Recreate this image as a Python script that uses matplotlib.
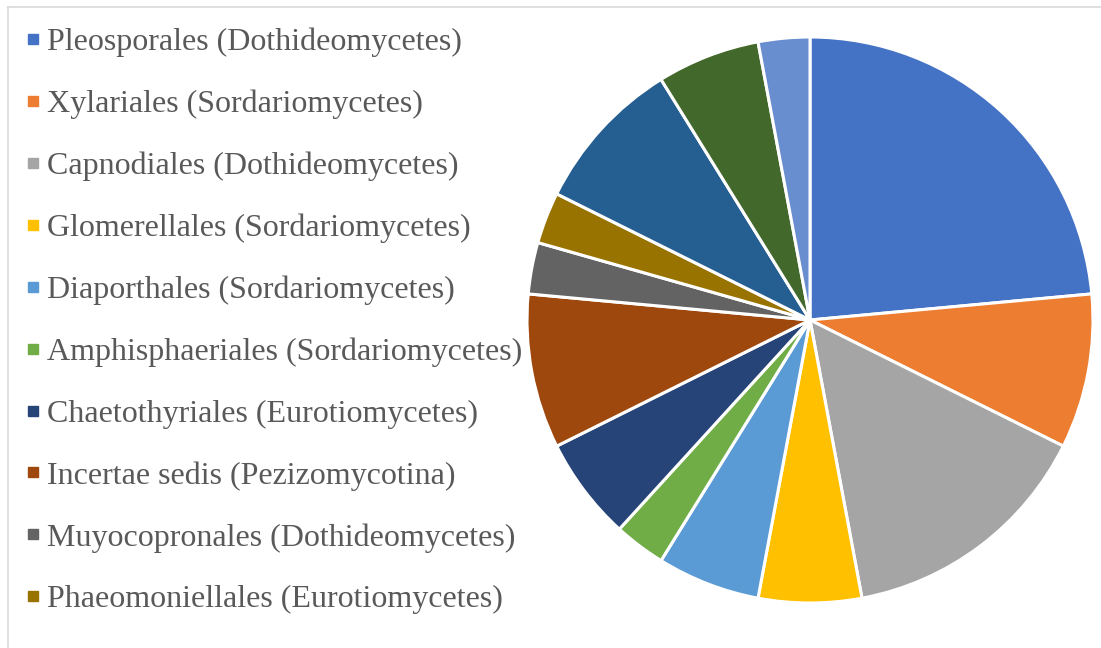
import matplotlib.pyplot as plt
from matplotlib.lines import Line2D

# order names shown in the legend (the legend is cut off after 10 entries)
labels = ['Pleosporales (Dothideomycetes)', 'Xylariales (Sordariomycetes)',
          'Capnodiales (Dothideomycetes)', 'Glomerellales (Sordariomycetes)',
          'Diaporthales (Sordariomycetes)', 'Amphisphaeriales (Sordariomycetes)',
          'Chaetothyriales (Eurotiomycetes)', 'Incertae sedis (Pezizomycotina)',
          'Muyocopronales (Dothideomycetes)', 'Phaeomoniellales (Eurotiomycetes)']
# slice counts, clockwise from 12 o'clock (13 slices)
counts = [8, 3, 5, 2, 2, 1, 2, 3, 1, 1, 3, 2, 1]
colors = ['#4472C4', '#ED7D31', '#A5A5A5', '#FFC000', '#5B9BD5', '#70AD47',
          '#264478', '#9E480E', '#636363', '#997300', '#255E91', '#43682B',
          '#698ED0']

W, H = 1101, 648
fig = plt.figure(figsize=(W / 100, H / 100), dpi=100)

# chart area border (only top and left visible)
fig.add_artist(Line2D([8 / W, 8 / W], [0, 1 - 7 / H], color='#D9D9D9', lw=1.2))
fig.add_artist(Line2D([8 / W, 1], [1 - 7 / H, 1 - 7 / H], color='#D9D9D9', lw=1.2))

cx, cy, r = 810, 320, 283
ax = fig.add_axes([(cx - r) / W, (H - cy - r) / H, 2 * r / W, 2 * r / H])
wedges, _ = ax.pie(counts, colors=colors, startangle=90, counterclock=False,
                   wedgeprops=dict(edgecolor='white', linewidth=2.2))
ax.set_xlim(-1, 1)
ax.set_ylim(-1, 1)
ax.axis('off')

handles = [Line2D([], [], marker='s', linestyle='none', markersize=7.5,
                  markerfacecolor=c, markeredgecolor=c) for c in colors[:10]]
leg = fig.legend(handles, labels, loc='upper left', bbox_to_anchor=(11 / W, 1 - 15 / H),
                 frameon=False, prop={'family': 'Liberation Serif', 'size': 23},
                 labelcolor='#595959', handlelength=0.6, handletextpad=0.13,
                 labelspacing=1.015, borderaxespad=0)

fig.savefig('out.png', dpi=100)
